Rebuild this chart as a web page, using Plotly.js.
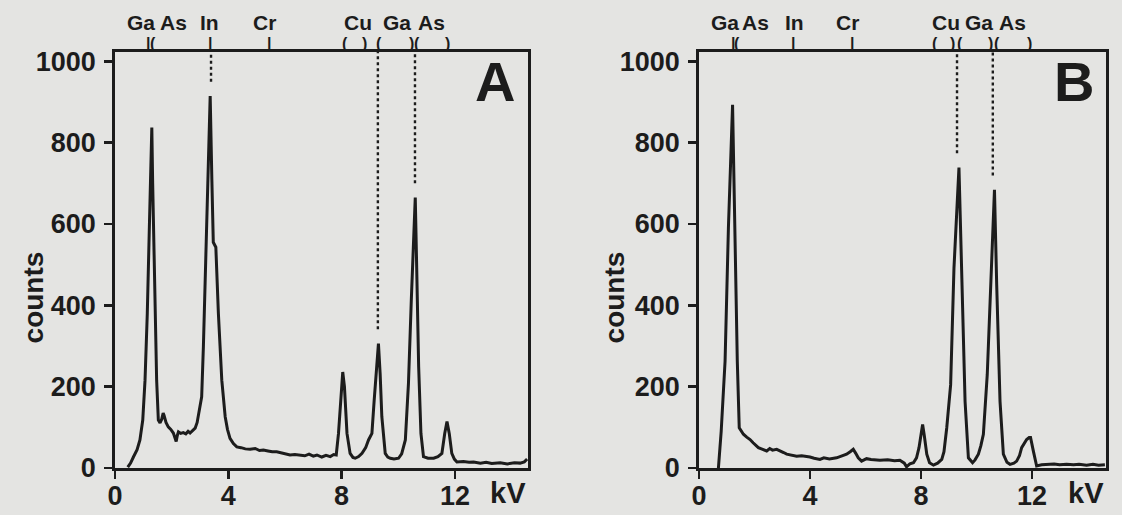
<!DOCTYPE html>
<html>
<head>
<meta charset="utf-8">
<script src="https://cdn.plot.ly/plotly-3.0.1.min.js"></script>
<style>
  html, body { margin: 0; padding: 0; background: #e4e4e2; }
  #chart { width: 1122px; height: 515px; }
</style>
</head>
<body>
<div id="chart"></div>
<script>
// ---------- data ----------
const energyA = [0.45,0.55,0.65,0.78,0.88,0.98,1.06,1.14,1.21,1.26,1.30,1.33,1.35,1.41,1.47,1.53,1.59,1.65,1.70,1.73,1.80,1.88,1.97,2.06,2.12,2.16,2.20,2.24,2.32,2.41,2.50,2.58,2.65,2.74,2.83,2.90,2.94,3.00,3.06,3.12,3.22,3.30,3.36,3.42,3.47,3.56,3.65,3.77,3.89,3.97,4.06,4.18,4.30,4.45,4.60,4.77,4.95,5.10,5.24,5.40,5.55,5.71,5.90,6.05,6.18,6.35,6.54,6.70,6.85,7.00,7.13,7.30,7.45,7.60,7.72,7.81,7.89,7.98,8.04,8.10,8.19,8.30,8.40,8.48,8.60,8.72,8.85,8.95,9.07,9.15,9.25,9.30,9.36,9.42,9.54,9.63,9.72,9.85,10.01,10.12,10.25,10.36,10.46,10.54,10.60,10.65,10.72,10.80,10.89,11.05,11.25,11.40,11.54,11.64,11.72,11.80,11.89,11.98,12.07,12.30,12.50,12.66,12.90,13.10,13.30,13.60,13.85,14.10,14.30,14.45,14.55];
const countsA = [2,12,27,45,69,118,216,380,584,760,837,700,626,380,216,118,111,120,135,130,112,101,95,86,75,65,80,89,85,87,84,90,86,92,98,112,126,150,175,298,543,788,915,707,555,543,380,216,126,95,73,60,52,50,47,46,48,43,44,42,40,40,37,35,32,33,32,30,34,29,32,27,31,28,33,32,85,167,236,200,85,36,26,24,28,36,50,69,85,167,265,306,232,126,36,27,24,22,24,35,69,208,412,577,665,494,249,85,28,24,24,28,36,85,114,85,36,22,15,16,14,15,12,14,11,13,10,13,12,15,22];

const energyB = [0.70,0.80,0.94,1.06,1.21,1.30,1.38,1.45,1.52,1.60,1.72,1.84,1.95,2.05,2.14,2.25,2.35,2.44,2.55,2.65,2.80,2.95,3.05,3.16,3.30,3.42,3.52,3.70,3.88,4.00,4.15,4.36,4.50,4.70,4.96,5.15,5.32,5.45,5.56,5.65,5.74,5.86,6.04,6.20,6.52,6.80,7.05,7.24,7.40,7.48,7.60,7.73,7.84,7.93,8.06,8.12,8.21,8.31,8.45,8.60,8.75,8.83,8.93,9.07,9.19,9.37,9.47,9.59,9.71,9.86,9.95,10.07,10.16,10.25,10.39,10.55,10.65,10.73,10.85,10.97,11.10,11.21,11.35,11.45,11.55,11.63,11.72,11.81,11.90,11.95,12.05,12.17,12.35,12.53,12.80,13.00,13.25,13.50,13.70,13.97,14.20,14.40,14.63];
const countsB = [0,90,263,590,893,550,263,99,90,83,76,70,62,56,50,47,44,42,48,44,46,40,38,34,32,31,29,30,29,27,24,21,25,22,25,30,34,40,46,36,25,17,23,21,19,20,18,19,12,3,10,13,25,50,107,80,34,13,7,12,21,40,99,205,491,739,491,164,25,13,20,34,55,83,230,532,684,451,164,34,14,9,12,17,30,50,62,70,75,75,42,5,8,9,10,8,9,8,9,7,9,7,8];

const xTickVals = [0, 4, 8, 12];
const yTickVals = [0, 200, 400, 600, 800, 1000];

// element names above each panel and their line markers
const elemNames = ["Ga", "As", "In", "Cr", "Cu", "Ga", "As"];
const elemNamePosA = [0.92, 2.05, 3.35, 5.26, 8.58, 9.95, 11.19];
const elemNamePosB = [0.95, 2.04, 3.43, 5.37, 8.90, 10.09, 11.31];
const lineGlyphs = ["|", "(", "|", "|", "(", ")", "(", ")", "(", ")"];
const lineGlyphPosA = [1.16, 1.34, 3.35, 5.43, 8.12, 8.82, 9.32, 10.48, 10.66, 11.75];
const lineGlyphPosB = [1.23, 1.37, 3.39, 5.51, 8.50, 9.15, 9.39, 10.49, 10.74, 11.93];

// dotted reference lines above peaks
const dottedA = [3.39, 9.28, 10.59];
const dottedB = [9.30, 10.59];

const panelLetters = ["A", "B"];
const yTitle = "counts";
const xUnit = "kV";

// ---------- styling ----------
const INK = "#1c1c1c";
const FONT = "Liberation Sans, Arial, Helvetica, sans-serif";
const xRangeA = [0, 14.58];
const xRangeB = [0, 14.67];
const yRange = [0, 1023];

function peakNear(xs, ys, x0) {
  let m = 0;
  for (let i = 0; i < xs.length; i++) {
    if (Math.abs(xs[i] - x0) <= 0.2 && ys[i] > m) m = ys[i];
  }
  return m;
}

const traces = [
  { x: energyA, y: countsA, type: "scatter", mode: "lines", xaxis: "x", yaxis: "y",
    line: { color: INK, width: 3 }, hoverinfo: "x+y", showlegend: false },
  { x: energyB, y: countsB, type: "scatter", mode: "lines", xaxis: "x2", yaxis: "y2",
    line: { color: INK, width: 3 }, hoverinfo: "x+y", showlegend: false }
];

function xAxis(domain, range, anchor) {
  return {
    domain: domain, range: range, anchor: anchor,
    tickvals: xTickVals, ticktext: xTickVals.map(String),
    ticks: "outside", ticklen: 8, tickwidth: 2.5, tickcolor: INK,
    showline: true, linewidth: 2.8, linecolor: INK, mirror: true,
    showgrid: false, zeroline: false, automargin: false,
    ticklabelstandoff: -6,
    tickfont: { family: FONT, size: 27, color: INK, weight: "bold" }
  };
}
function yAxis(anchor) {
  return {
    domain: [0, 1], range: yRange, anchor: anchor,
    tickvals: yTickVals, ticktext: yTickVals.map(String),
    ticks: "outside", ticklen: 8, tickwidth: 2.5, tickcolor: INK,
    showline: true, linewidth: 2.8, linecolor: INK, mirror: true,
    showgrid: false, zeroline: false, automargin: false,
    ticklabelstandoff: 3,
    tickfont: { family: FONT, size: 27, color: INK, weight: "bold" }
  };
}

const annotations = [];
const shapes = [];
function addPanel(xref, yref, namePos, glyphPos, dotted, xs, ys, range, letter, letterX, titleX) {
  elemNames.forEach((t, i) => annotations.push({
    text: t, x: namePos[i], xref: xref, y: 1.072, yref: "paper",
    showarrow: false, xanchor: "center", yanchor: "middle",
    font: { family: FONT, size: 21, color: INK, weight: "bold" }
  }));
  lineGlyphs.forEach((t, i) => annotations.push({
    text: t, x: glyphPos[i], xref: xref, y: 1.02, yref: "paper",
    showarrow: false, xanchor: "center", yanchor: "middle",
    font: { family: FONT, size: 16, color: INK, weight: "bold" }
  }));
  annotations.push({
    text: xUnit, x: range[1], xref: xref, y: -0.06, yref: "paper",
    showarrow: false, xanchor: "right", yanchor: "middle",
    font: { family: FONT, size: 29, color: INK, weight: "bold" }
  });
  annotations.push({
    text: yTitle, x: titleX, xref: "paper", y: 0.41, yref: "paper",
    showarrow: false, xanchor: "center", yanchor: "middle", textangle: -90,
    font: { family: FONT, size: 28, color: INK, weight: "bold" }
  });
  annotations.push({
    text: letter, x: letterX, xref: xref, y: 0.928, yref: "paper",
    showarrow: false, xanchor: "center", yanchor: "middle",
    font: { family: FONT, size: 56, color: INK, weight: "bold" }
  });
  dotted.forEach(xd => {
    shapes.push({
      type: "line", xref: xref, yref: yref,
      x0: xd, x1: xd, y0: peakNear(xs, ys, xd) + 35, y1: yRange[1],
      line: { color: INK, width: 2.4, dash: "dot" }
    });
  });
}
addPanel("x", "y", elemNamePosA, lineGlyphPosA, dottedA, energyA, countsA, xRangeA, panelLetters[0], 13.41, 33 / 1122);
addPanel("x2", "y2", elemNamePosB, lineGlyphPosB, dottedB, energyB, countsB, xRangeB, panelLetters[1], 13.51, 614 / 1122);

const layout = {
  width: 1122, height: 515,
  margin: { l: 0, r: 0, t: 52, b: 47 },
  paper_bgcolor: "#e4e4e2", plot_bgcolor: "#e4e4e2",
  showlegend: false,
  font: { family: FONT, color: INK },
  xaxis: xAxis([115 / 1122, 528 / 1122], xRangeA, "y"),
  yaxis: yAxis("x"),
  xaxis2: xAxis([699 / 1122, 1106 / 1122], xRangeB, "y2"),
  yaxis2: yAxis("x2"),
  annotations: annotations,
  shapes: shapes
};

Plotly.newPlot("chart", traces, layout, { displayModeBar: false, staticPlot: true });
</script>
</body>
</html>
